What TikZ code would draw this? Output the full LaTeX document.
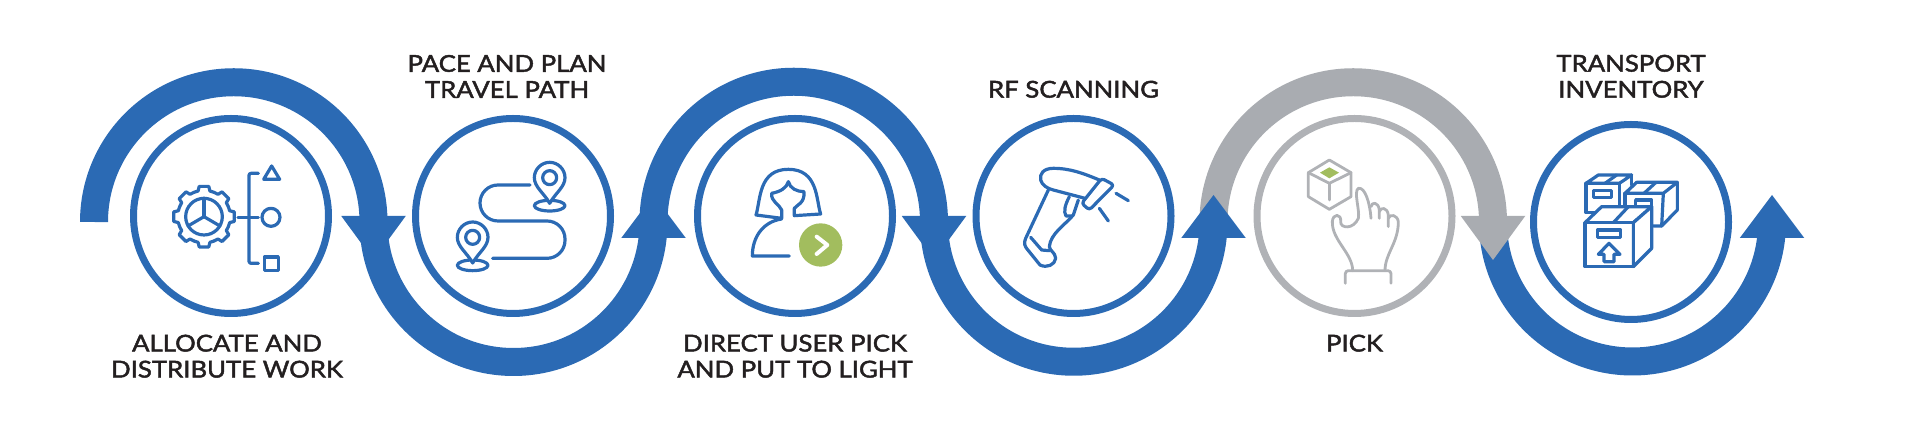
\documentclass[tikz,border=0pt]{standalone}
\usepackage{fontspec}
\setmainfont{Lato}[FakeStretch=1.11,FakeBold=2]
\usepackage{tikz}
\definecolor{flow-blue}{HTML}{2B6AB4}
\definecolor{flow-grey}{HTML}{A9ACB1}
\definecolor{hand-grey}{HTML}{B0B2B6}
\definecolor{pick-green}{HTML}{A2BD5E}
\definecolor{label-dark}{HTML}{231F20}
\usetikzlibrary{positioning}

\tikzset{
    stepcircle/.style={draw=flow-blue,circle,line width=7pt,minimum size=195pt,inner sep=0pt},
    steplabel/.style={inner sep=0pt,align=center,text=label-dark,font=\fontsize{23.2}{26}\selectfont},
    band/.style={line width=28pt},
    iconline/.style={draw=flow-blue,line width=3.2pt,line cap=round,line join=round},
    greyline/.style={draw=hand-grey,line width=2.8pt,line cap=round,line join=round},
    icongrid/.style 2 args={shift={(#1,{443-#2})},xscale=1/3,yscale=-1/3},
    headdown/.pic={\fill (-32.25,6) -- (32.25,6) -- (0,-38) -- cycle;},
    headup/.pic={\fill (-32.25,-16) -- (32.25,-16) -- (0,27) -- cycle;},
    mappin/.pic={
        \draw[iconline] (0,84) ellipse (46 and 16);
        \draw[iconline,fill=white] (0,77) .. controls (-18,45) and (-46,28) .. (-46,0) .. controls (-46,-25) and (-25,-46) .. (0,-46)
            .. controls (25,-46) and (46,-25) .. (46,0) .. controls (46,28) and (18,45) .. (0,77) -- cycle;
        \draw[iconline] (0,0) circle (21);
    }
}

\begin{document}
\begin{tikzpicture}[x=1pt,y=1pt]
    \useasboundingbox (0,0) rectangle (1920,443);

    % ends of the ribbons
    \coordinate (a0) at (94,221);
    \coordinate (a1) at (373.5,221);
    \coordinate (a2) at (653.5,221);
    \coordinate (a3) at (934,221);
    \coordinate (a4) at (1213.5,221);
    \coordinate (a5) at (1493,221);
    \coordinate (a6) at (1772,221);

    \draw[band,flow-blue] (a0) arc (180:0:139.75);
    \draw[band,flow-blue] (a1) arc (180:360:140);
    \draw[band,flow-blue] (a2) arc (180:0:140.25);
    \draw[band,flow-blue] (a3) arc (180:360:139.75);
    \draw[band,flow-grey] (a4) arc (180:0:139.75);
    \draw[band,flow-blue] (a5) arc (180:360:139.5);

    \pic[color=flow-blue] at (a1) {headdown};
    \pic[color=flow-blue] at (a2) {headup};
    \pic[color=flow-blue] at (a3) {headdown};
    \pic[color=flow-blue] at (a4) {headup};
    \pic[color=flow-grey] at (a5) {headdown};
    \pic[color=flow-blue] at (a6) {headup};

    \node[stepcircle] (c1) at (231,227) {};
    \node[stepcircle] (c2) at (513,227) {};
    \node[stepcircle] (c3) at (795,227) {};
    \node[stepcircle] (c4) at (1073.5,227) {};
    \node[stepcircle,draw=hand-grey] (c5) at (1354.5,227) {};
    \node[stepcircle] (c6) at (1631,221) {};

    \node[steplabel,below=17.5pt of c1,xshift=-4pt] (l1) {ALLOCATE AND\\DISTRIBUTE WORK};
    \node[steplabel,above=17pt of c2,xshift=-6pt] (l2) {PACE AND PLAN\\TRAVEL PATH};
    \node[steplabel,below=17.5pt of c3] (l3) {DIRECT USER PICK\\AND PUT TO LIGHT};
    \node[steplabel,above=17pt of c4] (l4) {RF SCANNING};
    \node[steplabel,below=17.5pt of c5] (l5) {PICK};
    \node[steplabel,above=23pt of c6] (l6) {TRANSPORT\\INVENTORY};

    % gear and shapes
    \begin{scope}[icongrid={150}{140}]
        \foreach \a in {0,45,...,315} {
            \draw[iconline,shift={(162,230)}] (\a-22.5:79) -- (\a-13:79) -- (\a-9:92) -- (\a+9:92) -- (\a+13:79) -- (\a+22.5:79);
        }
        \draw[iconline] (162,230) circle (55);
        \draw[iconline] (162,230) -- (162,175);
        \draw[iconline] (162,230) -- (114,258);
        \draw[iconline] (162,230) -- (210,258);
        \draw[iconline,rounded corners=2pt] (325,100) -- (297,100) -- (297,370) -- (325,370);
        \draw[iconline] (264,232) -- (325,232);
        \draw[iconline] (365,78) -- (341,118) -- (389,118) -- cycle;
        \draw[iconline] (363,232) circle (27);
        \draw[iconline] (343,351) rectangle (385,391);
    \end{scope}

    % travel path
    \begin{scope}[icongrid={440}{150}]
        \draw[iconline,rounded corners=18pt] (270,105) -- (120,105) -- (120,213) -- (375,213) -- (375,325) -- (158,325);
        \pic[transform shape] at (329,83) {mappin};
        \pic[transform shape] at (98,262) {mappin};
    \end{scope}

    % user
    \begin{scope}[icongrid={730}{150}]
        \draw[iconline] (78,195) .. controls (92,150) and (85,58) .. (175,58) .. controls (265,58) and (258,150) .. (272,192)
            -- (193,197) -- (193,175) .. controls (200,165) and (225,160) .. (222,125) .. controls (200,125) and (180,115) .. (175,95)
            .. controls (170,115) and (150,125) .. (125,130) .. controls (122,155) and (150,165) .. (155,180) -- (155,205) -- cycle;
        \draw[iconline] (155,207) .. controls (100,215) and (67,260) .. (67,318) -- (178,318);
        \fill[pick-green] (272,285) circle (65);
        \draw[white,line width=4pt,line cap=round,line join=round] (260,260) -- (292,285) -- (260,312);
    \end{scope}

    % scanner
    \begin{scope}[icongrid={1010}{150}]
        \draw[iconline] (268,90) .. controls (220,70) and (180,55) .. (130,55) .. controls (100,55) and (88,72) .. (92,90)
            .. controls (96,105) and (110,115) .. (130,120) -- (225,145);
        \draw[iconline,rounded corners=3pt] (275,85) -- (312,105) -- (238,180) -- (215,160) -- cycle;
        \draw[iconline] (115,120) -- (47,265) .. controls (40,280) and (45,290) .. (52,298) -- (90,345)
            .. controls (110,355) and (135,345) .. (137,325) .. controls (135,305) and (120,305) .. (118,290)
            .. controls (122,250) and (165,225) .. (190,195) -- (205,150);
        \draw[iconline] (62,262) -- (95,300) -- (118,302);
        \draw[iconline] (178,140) .. controls (165,165) and (160,185) .. (168,198) -- (185,198);
        \draw[iconline] (318,130) -- (355,152);
        \draw[iconline] (268,175) -- (295,213);
    \end{scope}

    % hand and cube
    \begin{scope}[icongrid={1290}{150}]
        \draw[greyline] (118,30) -- (183,68) -- (183,140) -- (118,178) -- (55,140) -- (55,68) -- cycle;
        \draw[greyline] (55,68) -- (118,100) -- (183,68);
        \draw[greyline] (118,100) -- (118,150);
        \fill[pick-green] (90,68) -- (118,52) -- (147,68) -- (118,85) -- cycle;
        \draw[greyline] (188,362) .. controls (188,310) and (125,270) .. (127,215) .. controls (128,190) and (155,190) .. (152,215)
            .. controls (150,235) and (190,240) .. (205,205) .. controls (210,180) and (190,125) .. (205,115)
            .. controls (225,110) and (240,160) .. (243,205);
        \draw[greyline] (243,170) .. controls (245,155) and (265,155) .. (268,180) -- (268,205);
        \draw[greyline] (268,185) .. controls (272,170) and (292,172) .. (295,195) -- (295,230);
        \draw[greyline] (295,205) .. controls (300,190) and (322,195) .. (325,215) .. controls (325,280) and (285,310) .. (285,362);
        \draw[greyline,rounded corners=3pt] (166,400) -- (166,362) -- (303,362) -- (303,400);
    \end{scope}

    % boxes
    \begin{scope}[icongrid={1570}{150}]
        \draw[iconline] (48,100) -- (85,75) -- (185,75) -- (148,100) -- cycle;
        \draw[iconline] (105,100) -- (140,75);
        \draw[iconline] (48,100) -- (48,188) -- (90,188);
        \draw[iconline] (148,100) -- (148,165);
        \draw[iconline] (185,75) -- (185,105);
        \draw[iconline] (70,122) rectangle (125,142);
        \draw[iconline,fill=white] (165,130) -- (200,97) -- (322,97) -- (280,130) -- cycle;
        \draw[iconline] (222,130) -- (258,97);
        \draw[iconline] (322,97) -- (322,180) -- (275,228) -- (250,228);
        \draw[iconline] (280,130) -- (275,228);
        \draw[iconline] (165,130) -- (165,165);
        \draw[iconline] (197,170) -- (197,150) -- (245,150) -- (245,170);
        \draw[iconline,fill=white] (45,218) -- (95,170) -- (245,170) -- (190,218) -- cycle;
        \draw[iconline] (130,218) -- (175,170);
        \draw[iconline,fill=white] (45,218) rectangle (190,350);
        \draw[iconline,fill=white] (190,218) -- (245,170) -- (245,295) -- (190,350) -- cycle;
        \draw[iconline] (82,240) rectangle (152,262);
        \draw[iconline] (117,280) -- (150,313) -- (132,313) -- (132,335) -- (102,335) -- (102,313) -- (85,313) -- cycle;
    \end{scope}
\end{tikzpicture}
\end{document}
